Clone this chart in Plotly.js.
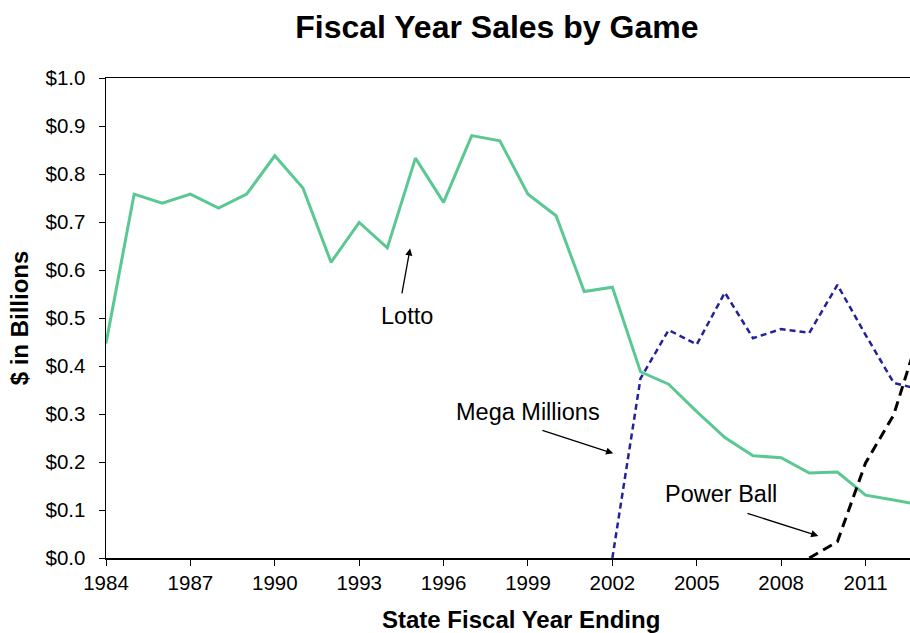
<!DOCTYPE html>
<html>
<head>
<meta charset="utf-8">
<script src="https://cdn.plot.ly/plotly-3.0.1.min.js"></script>
<style>html,body{margin:0;padding:0;overflow:hidden;background:#fff;}#chart{width:910px;height:633px;}</style>
</head>
<body>
<div id="chart"></div>
<script>
// Data ($ billions)
const years = [1984,1985,1986,1987,1988,1989,1990,1991,1992,1993,1994,1995,1996,1997,1998,1999,2000,2001,2002,2003,2004,2005,2006,2007,2008,2009,2010,2011,2012,2013];
const lotto = [0.447,0.758,0.739,0.758,0.729,0.758,0.838,0.771,0.616,0.699,0.646,0.833,0.741,0.880,0.869,0.758,0.713,0.555,0.564,0.388,0.362,0.305,0.251,0.213,0.209,0.177,0.179,0.131,0.121,0.110];
const megaYears = [2002,2003,2004,2005,2006,2007,2008,2009,2010,2011,2012,2013];
const megaMillions = [0.0,0.374,0.475,0.445,0.553,0.458,0.477,0.469,0.569,0.465,0.365,0.350];
const powerYears = [2009,2010,2011,2012,2013];
const powerBall = [0.0,0.034,0.198,0.298,0.485];
const xTickYears = [1984,1987,1990,1993,1996,1999,2002,2005,2008,2011];
const yTicks = [0,0.1,0.2,0.3,0.4,0.5,0.6,0.7,0.8,0.9,1.0];

const FONT = 'Liberation Sans, Arial, sans-serif';

const traces = [
  {x: years, y: lotto, type: 'scatter', mode: 'lines', name: 'Lotto',
   line: {color: '#5BC894', width: 3}},
  {x: megaYears, y: megaMillions, type: 'scatter', mode: 'lines', name: 'Mega Millions',
   line: {color: '#22229A', width: 2.5, dash: '6px,4px'}},
  {x: powerYears, y: powerBall, type: 'scatter', mode: 'lines', name: 'Power Ball',
   line: {color: '#000000', width: 3, dash: '10px,6px'}}
];

function arrow(x, y, ax, ay) {
  return {x: x, y: y, ax: ax, ay: ay, xref: 'x', yref: 'y', axref: 'x', ayref: 'y',
          text: '', showarrow: true, arrowhead: 2, arrowsize: 1.1, arrowwidth: 1.3, arrowcolor: '#000'};
}
function label(x, y, t) {
  return {x: x, y: y, xref: 'x', yref: 'y', text: t, showarrow: false,
          font: {family: FONT, size: 23.5, color: '#000'}, xanchor: 'center', yanchor: 'middle'};
}

const layout = {
  width: 910, height: 633,
  margin: {l: 106, r: 0, t: 78, b: 75},
  paper_bgcolor: '#fff', plot_bgcolor: '#fff',
  showlegend: false,
  font: {family: FONT, color: '#000'},
  title: {text: '<b>Fiscal Year Sales by Game</b>', font: {family: FONT, size: 32, color: '#000'},
          x: 0.546, xref: 'container', xanchor: 'center', y: 0.958, yref: 'container', yanchor: 'middle'},
  xaxis: {
    range: [1984, 2012.58], tickmode: 'array', tickvals: xTickYears, ticktext: xTickYears.map(String),
    showgrid: false, zeroline: false, showline: true, linecolor: '#000', linewidth: 1.5,
    mirror: true, ticks: 'outside', ticklen: 6, tickcolor: '#000', tickwidth: 1,
    tickfont: {family: FONT, size: 20.5, color: '#000'}
  },
  yaxis: {
    range: [0, 1.0], tickmode: 'array', tickvals: yTicks, ticktext: yTicks.map(v => '$' + v.toFixed(1)),
    showgrid: false, zeroline: false, showline: true, linecolor: '#000', linewidth: 1.5,
    ticks: 'outside', ticklen: 6, tickcolor: '#000', tickwidth: 1, ticklabelstandoff: 9,
    tickfont: {family: FONT, size: 20.5, color: '#000'},
    title: {text: '<b>$ in Billions</b>', font: {family: FONT, size: 24, color: '#000'}, standoff: 10}
  },
  annotations: [
    {text: '<b>State Fiscal Year Ending</b>', xref: 'paper', yref: 'paper', x: 0.516, y: -0.129,
     xanchor: 'center', yanchor: 'middle', showarrow: false, font: {family: FONT, size: 24, color: '#000'}},
    label(1994.69, 0.504, 'Lotto'),
    arrow(1994.81, 0.645, 1994.51, 0.548),
    label(1998.99, 0.304, 'Mega Millions'),
    arrow(2002.03, 0.218, 1999.46, 0.267),
    label(2005.87, 0.133, 'Power Ball'),
    arrow(2009.32, 0.046, 2006.75, 0.094)
  ]
};

Plotly.newPlot('chart', traces, layout, {displayModeBar: false, staticPlot: true});
</script>
</body>
</html>
